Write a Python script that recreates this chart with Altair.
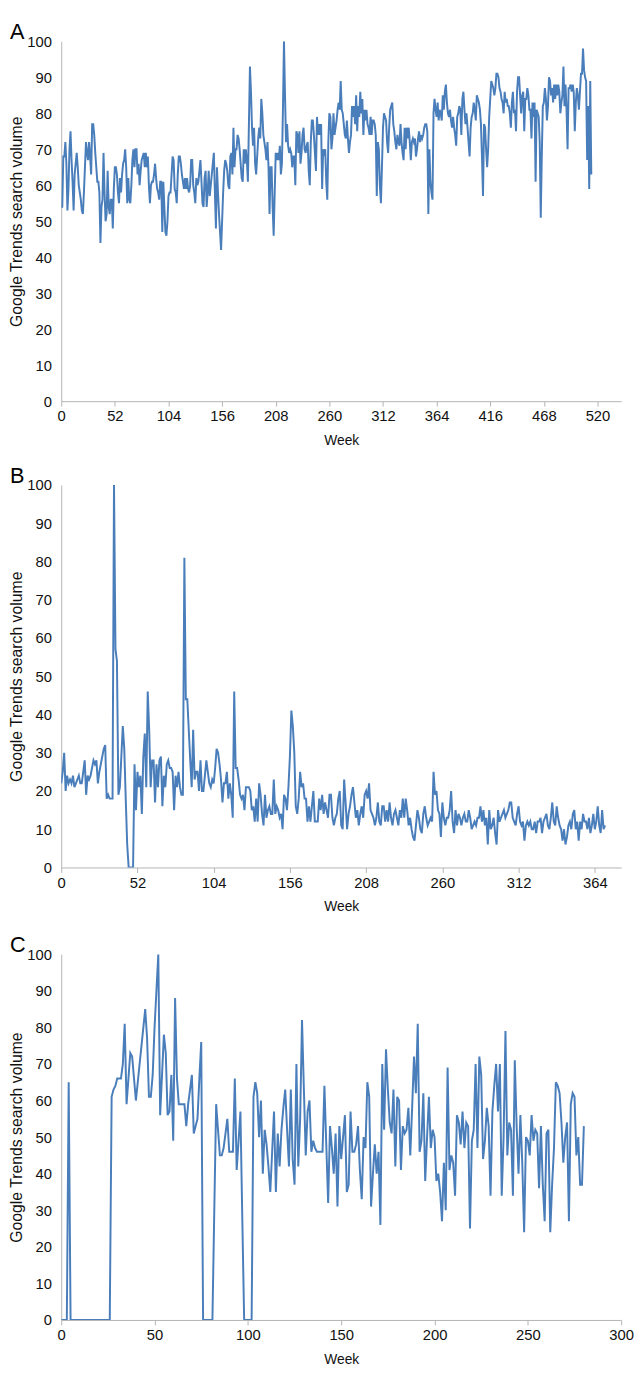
import altair as alt
import pandas as pd

# ---------------- data ----------------
panel_letters = ["A", "B", "C"]
x_title = "Week"
y_title = "Google Trends search volume"

ticks_a = [0, 52, 104, 156, 208, 260, 312, 364, 416, 468, 520]
ticks_b = [0, 52, 104, 156, 208, 260, 312, 364]
ticks_c = [0, 50, 100, 150, 200, 250, 300]
ticks_y = [0, 10, 20, 30, 40, 50, 60, 70, 80, 90, 100]

volume_a = [
    54, 54, 68, 68, 72, 66, 53, 59, 70, 75, 67, 61, 53, 63, 66, 69, 65, 60, 58, 56, 53, 52, 58, 65, 72,
    69, 67, 72, 68, 63, 77, 77, 74, 69, 65, 61, 61, 58, 44, 54, 56, 69, 58, 50, 52, 64, 54, 52, 56, 56,
    48, 59, 65, 65, 63, 58, 55, 62, 58, 63, 66, 67, 70, 65, 55, 62, 56, 55, 60, 67, 70, 65, 70, 70, 63,
    66, 60, 64, 67, 68, 69, 65, 69, 65, 68, 60, 55, 60, 61, 61, 63, 66, 62, 59, 58, 56, 61, 61, 47, 61,
    54, 47, 46, 50, 57, 58, 58, 63, 68, 67, 59, 58, 55, 63, 68, 68, 66, 63, 61, 59, 62, 59, 62, 59, 58,
    60, 67, 67, 60, 58, 55, 62, 60, 61, 64, 67, 61, 55, 54, 62, 64, 54, 58, 64, 57, 60, 63, 66, 69, 58,
    48, 65, 58, 52, 47, 42, 50, 58, 64, 67, 66, 64, 60, 59, 68, 69, 63, 76, 65, 70, 70, 74, 73, 70, 66,
    62, 61, 70, 66, 70, 67, 61, 77, 93, 86, 76, 71, 76, 66, 63, 68, 73, 76, 73, 84, 80, 74, 72, 70, 67,
    72, 65, 52, 65, 65, 54, 46, 58, 69, 67, 69, 67, 71, 63, 66, 81, 100, 85, 72, 77, 71, 69, 70, 69, 65,
    68, 68, 60, 75, 74, 69, 75, 66, 69, 74, 76, 70, 69, 71, 72, 64, 60, 72, 78, 78, 74, 69, 64,
    79, 74, 77, 74, 77, 59, 70, 69, 70, 61, 56, 72, 80, 79, 70, 73, 80, 74, 76, 78, 81, 83, 81, 89, 81,
    80, 77, 74, 73, 78, 73, 69, 72, 74, 82, 79, 82, 77, 85, 75, 82, 79, 86, 80, 84, 74, 81, 78, 81, 77,
    76, 74, 79, 74, 78, 78, 77, 74, 57, 72, 70, 60, 55, 65, 76, 80, 79, 78, 72, 69, 76, 81, 82, 83, 77,
    75, 72, 70, 74, 72, 71, 77, 72, 69, 67, 76, 70, 76, 73, 76, 72, 67, 72, 73, 72, 73, 68, 70, 73, 75,
    72, 74, 73, 74, 76, 77, 77, 75, 52, 70, 61, 58, 56, 80, 84, 81, 79, 83, 78, 81, 80, 78, 85, 81, 86,
    88, 83,
    80, 79, 81, 78, 76, 79, 76, 74, 71, 79, 80, 82, 81, 74, 84, 86, 81, 77, 80, 76, 72, 68, 76, 79, 80,
    83, 81, 78, 85, 84, 83, 81, 77, 68, 57, 77, 76, 70, 65, 70, 79, 84, 89, 88, 87, 85, 87, 91, 91, 90,
    87, 86, 84, 83, 80, 86, 83, 84, 82, 82, 80, 76, 83, 86, 80, 81, 75, 86, 90, 90, 85, 80, 85, 86, 75,
    84, 84, 87, 85, 81, 81, 73, 83, 79, 83, 61, 81, 80, 79, 72, 51, 68, 82, 83, 87, 84, 78, 82, 90, 89,
    85, 87, 83, 88, 84, 88, 85, 88, 86, 80, 83, 85, 93, 82, 88, 81, 70, 87, 87, 88, 86, 88, 86, 75, 83,
    87, 85, 81, 86, 91, 91, 98, 92, 90, 89, 67, 82, 59, 89, 63,
]

volume_b = [
    22, 25, 30, 20, 24, 22, 23, 22, 24, 21, 22, 23, 24, 22, 22, 25, 28, 19, 24, 23, 24, 26, 28, 27, 28,
    22, 25, 27, 29, 31, 32, 18, 19, 18, 18, 18, 100,
    57, 54, 19, 21, 29, 37, 31, 18, 6, 0, 0, 0, 0, 27, 15, 25, 21, 24, 14, 29, 35, 21, 46, 36, 21, 28,
    28, 17, 27, 21, 28, 29, 16, 24, 21, 27, 28, 26, 26, 25, 15, 24, 21, 25, 21, 19, 19, 81,
    44, 44, 36, 28, 21, 36, 23, 25, 25, 20, 28, 20, 20, 24, 28, 25, 22, 21, 23, 22, 26, 31, 30, 27, 23,
    17, 22, 22, 25, 18, 22, 19, 13, 46, 26, 26, 23, 19, 18, 19, 15, 21, 21, 21, 20, 15, 16, 12, 18, 12,
    22, 19, 14, 11, 19, 13, 15, 16, 14, 14, 23, 14, 16, 15, 13, 14, 10, 19, 18, 15, 21, 29, 41, 37, 30,
    16, 14, 18, 25, 21, 22, 18, 18, 12, 16, 12, 16, 20, 12, 12,
    12, 18, 15, 19, 14, 17, 15, 13, 19, 19, 13, 11, 13, 14, 18, 20, 11, 10, 23, 17, 10, 14, 16, 19, 21,
    17, 13, 15, 11, 14, 16, 13, 19, 20, 18, 22, 15, 14, 13, 11, 13, 17, 12, 11, 16, 16, 12, 15, 12, 17,
    13, 11, 14, 15, 13, 11, 15, 13, 18, 13, 18, 15, 11, 13, 10, 8, 7, 11, 15, 13, 10, 9, 14, 16, 13,
    11, 12, 13, 12, 25, 19, 20, 15, 14, 8, 17, 13, 11, 13,
    13, 15, 20, 12, 9, 15, 11, 14, 13, 11, 13, 14, 12, 12, 15, 13, 10, 11, 12, 11, 13, 13, 16, 12, 15,
    11, 13, 6, 15, 10, 11, 13, 9, 6, 15, 12, 13, 14, 15, 13, 14, 15, 17, 17, 13, 12, 11, 14, 16, 12,
    11, 12, 7, 11, 12, 11, 12, 10, 10, 12, 9, 12, 12, 13, 9, 12, 13, 14, 11, 10, 13, 17, 12, 11, 16,
    13, 11, 10, 7, 10, 6, 8, 11, 12, 10, 14, 15, 10, 12, 7, 12, 10, 14, 12,
    12, 10, 13, 9, 11, 14, 10, 12, 16, 11, 9, 15, 10, 11,
]

volume_c = [
    0, 0, 0, 0, 65, 0, 0, 0, 0, 0, 0, 0, 0, 0, 0, 0, 0, 0, 0, 0, 0, 0, 0, 0, 0, 0, 0,
    61, 63, 64, 66, 66, 66, 70, 81, 59, 66, 73, 72, 66, 60, 65, 70, 75, 80, 85, 77, 61, 61, 67, 80,
    90, 100,
    56, 67, 78, 73, 56, 57, 67, 49, 88, 66, 59, 59, 59, 59, 53, 59, 63, 67, 51, 53, 55, 66, 76,
    0, 0, 0, 0, 0, 0,
    30, 59, 52, 45, 45, 47, 51, 55, 46, 46, 46, 66, 41, 49, 57, 28, 0, 0, 0, 0, 0, 61,
    65, 62, 50, 60, 40, 52, 48, 42, 35, 46, 57, 35, 51, 42, 52, 58, 63, 52, 42, 63, 44, 37, 70,
    42, 55, 82, 63, 45, 57, 60, 46, 49, 47, 46, 46, 46, 46, 64, 48, 32, 53, 47, 40, 51, 31, 53, 44, 50,
    56, 35, 37, 57, 46, 46, 48, 53, 41, 33, 50, 47, 65, 61, 31, 40, 48, 40, 46, 26, 70, 52, 74, 63, 54,
    51, 63, 42, 61, 60, 41, 53, 51, 52, 58, 45, 58, 72, 62, 81, 46, 49, 62, 38, 50, 61, 47, 52, 50, 38,
    40, 35, 27, 43, 30, 69, 41, 45, 43, 34, 56, 54, 48, 57, 47, 54, 53, 25, 49, 52, 70, 47, 72, 67, 44,
    49, 58, 53, 34, 57, 64, 70, 57, 70, 34, 50, 79, 45, 54, 52, 34, 71, 53, 40, 56, 43, 24, 50, 49, 45,
    56, 49, 52, 51, 36, 53, 37, 27, 51, 52, 24, 37, 47, 65, 64, 62, 54, 43, 50, 54, 27, 59, 62, 61, 45,
    50, 37, 37, 53,
]

# ---------------- styling ----------------
FONT = "Liberation Sans"
LINE_COLOR = "#4a7ebb"
AXIS_COLOR = "#b4b4b4"
PLOT_W = 568


def panel(values, letter, xmax, xticks, height):
    df = pd.DataFrame({"Week": list(range(len(values))), "Volume": values})
    line = alt.Chart(df).mark_line(color=LINE_COLOR, strokeWidth=2, clip=True).encode(
        x=alt.X(
            "Week:Q",
            scale=alt.Scale(domain=[0, xmax], nice=False, zero=True),
            axis=alt.Axis(
                values=xticks, title=x_title, grid=False, labelFlush=False,
                labelOverlap=False, tickSize=5, labelPadding=3, titlePadding=10,
                titleFontSize=14, domainColor=AXIS_COLOR, tickColor=AXIS_COLOR,
            ),
        ),
        y=alt.Y(
            "Volume:Q",
            scale=alt.Scale(domain=[0, 100], nice=False),
            axis=alt.Axis(
                values=ticks_y, title=y_title, grid=False, tickSize=0,
                labelPadding=10, titlePadding=2, titleFontSize=16,
                domainColor=AXIS_COLOR,
            ),
        ),
    )
    tag = alt.Chart(pd.DataFrame({"t": [letter]})).mark_text(
        align="left", baseline="middle", fontSize=22, font=FONT, color="#000000"
    ).encode(text="t:N", x=alt.value(-52), y=alt.value(-9))
    return alt.layer(line, tag).properties(width=PLOT_W, height=height)


chart_a = panel(volume_a, panel_letters[0], 543, ticks_a, 365)
chart_b = panel(volume_b, panel_letters[1], 382, ticks_b, 388)
chart_c = panel(volume_c, panel_letters[2], 300, ticks_c, 371)

chart = (
    alt.vconcat(alt.vconcat(chart_a, chart_b, spacing=18), chart_c, spacing=21)
    .properties(padding={"left": 0, "top": 4, "right": 0, "bottom": 0})
    .configure_view(stroke=None)
    .configure_axis(
        labelFont=FONT, titleFont=FONT, labelFontSize=15,
        labelColor="#111111", titleColor="#111111", titleFontWeight="normal",
    )
)

chart.save("out.html", embed_options={"renderer": "svg", "actions": False})
